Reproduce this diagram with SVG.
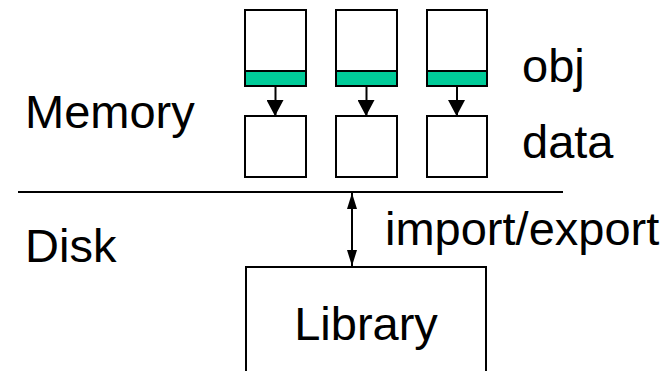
<svg xmlns="http://www.w3.org/2000/svg" width="667" height="371" viewBox="0 0 667 371">
  <style>
    .box { fill: #ffffff; stroke: #000000; stroke-width: 2; }
    .band { fill: #00cc99; stroke: #000000; stroke-width: 2; }
    .lbl { font-family: "Liberation Sans", Arial, sans-serif; font-size: 47px; fill: #000000; }
    .wire { stroke: #000000; stroke-width: 2; fill: none; }
  </style>
  <defs>
    <marker id="headBig" viewBox="0 0 16 17" refX="16" refY="8" markerWidth="16" markerHeight="17" markerUnits="userSpaceOnUse" orient="auto">
      <path d="M0,0 L16,8.5 L0,17 Z" fill="#000000"/>
    </marker>
    <marker id="headSmall" viewBox="0 0 16 10" refX="16" refY="5" markerWidth="16" markerHeight="10" markerUnits="userSpaceOnUse" orient="auto-start-reverse">
      <path d="M0,0 L16,5 L0,10 Z" fill="#000000"/>
    </marker>
  </defs>

  <rect width="667" height="371" fill="#ffffff"/>

  <!-- section labels -->
  <text class="lbl" x="25" y="128">Memory</text>
  <text class="lbl" x="25" y="262">Disk</text>
  <text class="lbl" x="522" y="82">obj</text>
  <text class="lbl" x="522" y="158">data</text>

  <!-- memory / disk divider -->
  <line x1="18" y1="192" x2="563" y2="192" stroke="#000000" stroke-width="2"/>

  <!-- object headers with their green reference band -->
  <g id="obj1">
    <rect class="box" x="245" y="10" width="61" height="76"/>
    <rect class="band" x="245" y="71" width="61" height="15"/>
  </g>
  <g id="obj2">
    <rect class="box" x="336" y="10" width="61" height="76"/>
    <rect class="band" x="336" y="71" width="61" height="15"/>
  </g>
  <g id="obj3">
    <rect class="box" x="427" y="10" width="60" height="76"/>
    <rect class="band" x="427" y="71" width="60" height="15"/>
  </g>

  <!-- data blocks -->
  <g id="data1"><rect class="box" x="245" y="116" width="61" height="61"/></g>
  <g id="data2"><rect class="box" x="336" y="116" width="61" height="61"/></g>
  <g id="data3"><rect class="box" x="427" y="116" width="60" height="61"/></g>

  <!-- library on disk -->
  <g id="library">
    <rect class="box" x="246" y="267" width="240" height="120"/>
    <text class="lbl" x="366" y="340" text-anchor="middle">Library</text>
  </g>

  <g id="connectors">
    <line class="wire" x1="275.5" y1="87" x2="275.5" y2="116" marker-end="url(#headBig)"/>
    <line class="wire" x1="366.5" y1="87" x2="366.5" y2="116" marker-end="url(#headBig)"/>
    <line class="wire" x1="457" y1="87" x2="457" y2="116" marker-end="url(#headBig)"/>
    <line class="wire" x1="352" y1="193" x2="352" y2="266" marker-start="url(#headSmall)" marker-end="url(#headSmall)"/>
    <text class="lbl" x="385" y="245">import/export</text>
  </g>
</svg>
